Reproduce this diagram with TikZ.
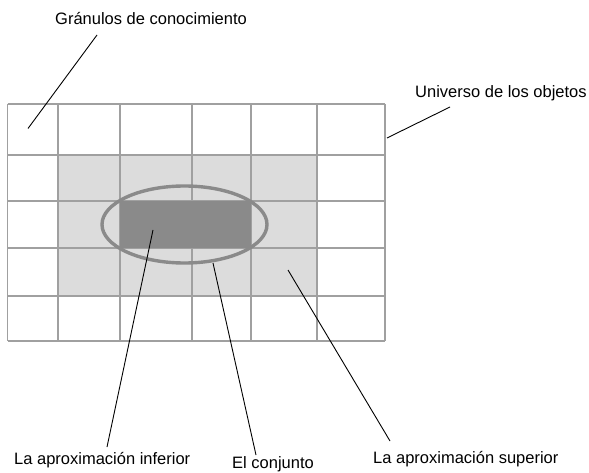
\documentclass[tikz,border=0pt]{standalone}
\usepackage{fontspec}
\setmainfont{Liberation Sans}
\definecolor{gridc}{HTML}{A0A0A0}
\definecolor{lightc}{HTML}{DCDCDC}
\definecolor{darkc}{HTML}{8A8A8A}
\begin{document}
\begin{tikzpicture}[x=1pt,y=-1pt,
  lbl/.style={inner sep=0pt,anchor=base west,font=\fontsize{16.5}{18}\selectfont},
  gridline/.style={draw=gridc,line width=1.4pt},
  conn/.style={draw=black,line width=0.9pt}]
\useasboundingbox (0,0) rectangle (589,473);
% light region (upper approximation)
\fill[lightc] (58,155) rectangle (317,296);
% grid
\foreach \x in {7.5,58,120,192,251,317,385}{\draw[gridline] (\x,104) -- (\x,341);}
\foreach \y in {104,155,201,248,296,341}{\draw[gridline] (7.5,\y) -- (385,\y);}
% lower approximation
\fill[darkc] (120,201) rectangle (251,248);
% the set
\draw[darkc,line width=3.4pt] (184.5,224.5) ellipse [x radius=82.5, y radius=38.5];
% labels
\node[lbl] (gran) at (55,25) {Gránulos de conocimiento};
\node[lbl] (univ) at (415,98) {Universo de los objetos};
\node[lbl] (inf) at (14,464) {La aproximación inferior};
\node[lbl] (conj) at (232,468.5) {El conjunto};
\node[lbl] (sup) at (373,463) {La aproximación superior};
% connector ends
\coordinate (granA) at (97,35);   \coordinate (granB) at (28,128.5);
\coordinate (univA) at (450,107); \coordinate (univB) at (387,138);
\coordinate (infA) at (107,447);  \coordinate (infB) at (153,230);
\coordinate (conjA) at (256,455); \coordinate (conjB) at (213,263);
\coordinate (supA) at (390,441);  \coordinate (supB) at (288,270);
\draw[conn] (granA) -- (granB);
\draw[conn] (univA) -- (univB);
\draw[conn] (infA) -- (infB);
\draw[conn] (conjA) -- (conjB);
\draw[conn] (supA) -- (supB);
\end{tikzpicture}
\end{document}
